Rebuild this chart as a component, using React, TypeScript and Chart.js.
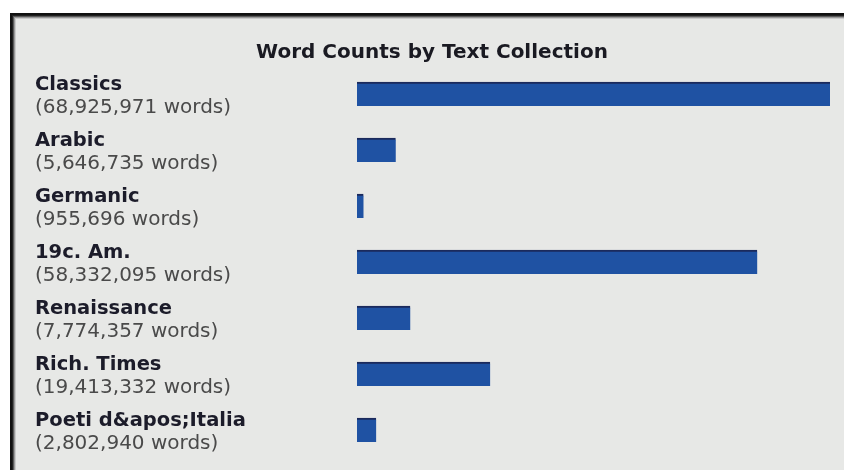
import React, { useEffect, useRef } from "react";
import { Chart, registerables } from "chart.js";

Chart.register(...registerables);

const chartTitle = "Word Counts by Text Collection";
const collections = [
  "Classics",
  "Arabic",
  "Germanic",
  "19c. Am.",
  "Renaissance",
  "Rich. Times",
  "Poeti d&apos;Italia",
];
const wordCounts = [68925971, 5646735, 955696, 58332095, 7774357, 19413332, 2802940];

const BG = "#e7e8e6";
const BAR = "#1f52a3";
const BAR_EDGE = "#1b2a5c";
const FONT = '"DejaVu Sans", sans-serif';

const framePlugin = {
  id: "frame",
  beforeDraw(chart: any) {
    const ctx = chart.ctx;
    const w = chart.width;
    const h = chart.height;
    ctx.save();
    ctx.fillStyle = "#ffffff";
    ctx.fillRect(0, 0, w, h);
    const x0 = 10;
    const y0 = 13;
    const shades = ["#111111", "#111111", "#222222", "#5a5a5a", "#999999", "#c9c9c9"];
    shades.forEach((c, i) => {
      ctx.fillStyle = c;
      ctx.fillRect(x0 + i, y0 + i, w - x0 - i, h - y0 - i);
    });
    ctx.fillStyle = BG;
    ctx.fillRect(x0 + shades.length, y0 + shades.length, w, h);
    ctx.restore();
  },
  afterDraw(chart: any) {
    const ctx = chart.ctx;
    const yScale = chart.scales.y;
    ctx.save();
    ctx.textBaseline = "alphabetic";
    ctx.textAlign = "center";
    ctx.fillStyle = "#1a1a22";
    ctx.font = `bold 20px ${FONT}`;
    ctx.fillText(chartTitle, 432, 58);
    ctx.textAlign = "left";
    collections.forEach((name, i) => {
      const yc = yScale.getPixelForValue(i);
      ctx.fillStyle = "#1c1c2a";
      ctx.font = `bold 19.5px ${FONT}`;
      ctx.fillText(name, 35, yc - 4);
      ctx.fillStyle = "#4a4a4a";
      ctx.font = `20px ${FONT}`;
      ctx.fillText(`(${wordCounts[i].toLocaleString("en-US")} words)`, 35, yc + 19);
    });
    ctx.restore();
  },
};

export default function App() {
  const ref = useRef<HTMLCanvasElement | null>(null);
  useEffect(() => {
    if (!ref.current) return;
    const chart = new Chart(ref.current, {
      type: "bar",
      data: {
        labels: collections,
        datasets: [
          {
            data: wordCounts,
            backgroundColor: BAR,
            borderColor: BAR_EDGE,
            borderWidth: { top: 2, bottom: 0, left: 0, right: 0 },
            borderSkipped: false,
            barThickness: 24,
          },
        ],
      },
      options: {
        indexAxis: "y",
        animation: false,
        responsive: false,
        maintainAspectRatio: false,
        layout: { padding: { left: 357, right: 14, top: 66, bottom: 12 } },
        plugins: { legend: { display: false }, tooltip: { enabled: false }, title: { display: false } },
        scales: {
          x: { type: "linear", min: 0, max: 68925971, display: false },
          y: { type: "category", display: false, offset: true },
        },
      },
      plugins: [framePlugin],
    });
    return () => chart.destroy();
  }, []);
  return (
    <div style={{ position: "fixed", left: 0, top: 0, width: 844, height: 470 }}>
      <canvas ref={ref} width={844} height={470} style={{ width: 844, height: 470, display: "block" }} />
    </div>
  );
}
